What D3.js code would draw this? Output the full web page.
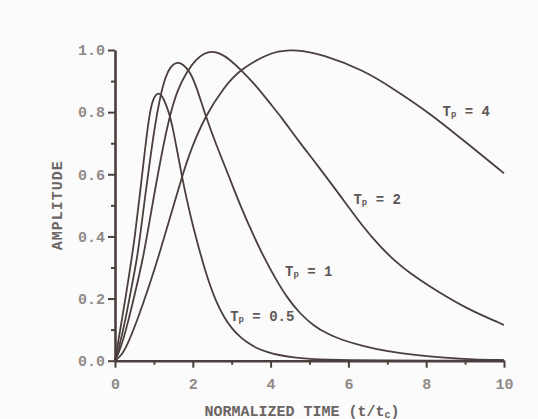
<!DOCTYPE html>
<html>
<head>
<meta charset="utf-8">
<script src="https://cdn.jsdelivr.net/npm/d3@7"></script>
<style>
  html, body { margin: 0; padding: 0; background: #fbfbfb; }
  svg { display: block; }
  .tick text { font-family: "Liberation Mono", "DejaVu Sans Mono", monospace; font-weight: bold; }
</style>
</head>
<body>
<svg id="chart" width="538" height="419"></svg>
<script>
// values: [t/tc, amplitude]
const tp05 = [[0,0],[0.17,0.126],[0.3,0.225],[0.43,0.33],[0.51,0.4],[0.64,0.535],[0.77,0.68],[0.88,0.79],[0.97,0.84],[1.05,0.857],[1.14,0.862],[1.22,0.85],[1.31,0.825],[1.41,0.79],[1.5,0.74],[1.6,0.675],[1.71,0.6],[1.85,0.515],[2.0,0.435],[2.15,0.365],[2.3,0.298],[2.45,0.24],[2.6,0.19],[2.8,0.14],[3.0,0.104],[3.2,0.078],[3.4,0.058],[3.65,0.04],[3.9,0.028],[4.2,0.018],[4.6,0.01],[5,0.006],[5.5,0.003],[6,0.0015],[7,0.0005],[8,0],[10,0]];
const tp1 = [[0,0],[0.1,0.04],[0.26,0.126],[0.4,0.22],[0.56,0.324],[0.64,0.395],[0.78,0.535],[0.92,0.665],[1.05,0.775],[1.18,0.86],[1.3,0.915],[1.43,0.948],[1.59,0.962],[1.75,0.955],[1.93,0.93],[2.1,0.88],[2.31,0.795],[2.6,0.695],[2.91,0.6],[3.2,0.505],[3.57,0.4],[3.86,0.325],[4.1,0.27],[4.41,0.205],[4.75,0.152],[5.1,0.113],[5.45,0.087],[5.8,0.068],[6.4,0.046],[7,0.03],[7.7,0.018],[8.5,0.009],[9.2,0.004],[10,0.002]];
const tp2 = [[0,0],[0.15,0.04],[0.34,0.126],[0.52,0.22],[0.71,0.324],[0.82,0.4],[1.0,0.53],[1.22,0.68],[1.41,0.79],[1.6,0.87],[1.84,0.93],[2.1,0.972],[2.3,0.99],[2.49,0.996],[2.7,0.99],[2.95,0.97],[3.22,0.938],[3.6,0.889],[4.0,0.826],[4.3,0.78],[4.67,0.715],[5.2,0.63],[5.78,0.533],[6.38,0.43],[6.81,0.368],[7.2,0.32],[7.6,0.28],[8.1,0.238],[8.6,0.2],[9,0.172],[9.5,0.142],[10,0.115]];
const tp4 = [[0,0],[0.15,0.015],[0.3,0.045],[0.56,0.126],[0.86,0.233],[1.13,0.34],[1.32,0.42],[1.74,0.6],[1.95,0.68],[2.33,0.79],[2.8,0.88],[3.22,0.938],[3.9,0.985],[4.2,0.996],[4.5,1.0],[4.8,0.998],[5.3,0.987],[6.38,0.936],[7.2,0.872],[8.1,0.796],[9,0.705],[10,0.603]];

const seriesNames = ["0.5", "1", "2", "4"];
const seriesValues = [tp05, tp1, tp2, tp4];

const xTicks = [0, 2, 4, 6, 8, 10];
const xMinorTicks = [1, 3, 5, 7, 9];
const yTicks = [0, 0.2, 0.4, 0.6, 0.8, 1.0];
const yMinorTicks = [0.1, 0.3, 0.5, 0.7, 0.9];

const svg = d3.select("#chart");
const mono = '"Liberation Mono", "DejaVu Sans Mono", monospace';
const ink = "#4a3f3d";

const x = d3.scaleLinear().domain([0, 10]).range([115, 504]);
const y = d3.scaleLinear().domain([0, 1]).range([360.7, 50]);

// minor ticks first, then major axes on top
svg.append("g")
  .attr("transform", `translate(${x(0)},0)`)
  .call(d3.axisLeft(y).tickValues(yMinorTicks).tickSize(4).tickFormat(""))
  .call((g) => g.select(".domain").remove())
  .call((g) => g.selectAll("line").attr("stroke", ink).attr("stroke-width", 2));

svg.append("g")
  .attr("transform", `translate(0,${y(0)})`)
  .call(d3.axisBottom(x).tickValues(xMinorTicks).tickSize(4).tickFormat(""))
  .call((g) => g.select(".domain").remove())
  .call((g) => g.selectAll("line").attr("stroke", ink).attr("stroke-width", 2));

const yAxis = svg.append("g")
  .attr("transform", `translate(${x(0)},0)`)
  .call(d3.axisLeft(y).tickValues(yTicks).tickSize(7).tickSizeOuter(0).tickPadding(3).tickFormat(d3.format(".1f")));

const xAxis = svg.append("g")
  .attr("transform", `translate(0,${y(0)})`)
  .call(d3.axisBottom(x).tickValues(xTicks).tickSize(7).tickSizeOuter(0).tickPadding(11));

[yAxis, xAxis].forEach((g) => {
  g.select(".domain").attr("stroke", ink).attr("stroke-width", 2.6);
  g.selectAll(".tick line").attr("stroke", ink).attr("stroke-width", 2);
  g.selectAll(".tick text")
    .attr("fill", "#8f8a88")
    .style("font-size", "15px");
});

// basis smoothing evens out the reading noise in the hand-read points
const line = d3.line()
  .x((d) => x(d[0]))
  .y((d) => y(d[1]))
  .curve(d3.curveBasis);

svg.append("g")
  .selectAll("path")
  .data(seriesValues)
  .join("path")
  .attr("d", line)
  .attr("fill", "none")
  .attr("stroke", ink)
  .attr("stroke-width", 1.8);

// curve labels, anchored in data units
const labelAt = { "0.5": [2.96, 0.14], "1": [4.37, 0.285], "2": [6.13, 0.517], "4": [8.42, 0.8] };

const labels = svg.append("g")
  .selectAll("text")
  .data(seriesNames)
  .join("text")
  .attr("x", (d) => x(labelAt[d][0]))
  .attr("y", (d) => y(labelAt[d][1]))
  .attr("dominant-baseline", "central")
  .attr("fill", "#5e5856")
  .style("font-family", mono)
  .style("font-weight", "bold")
  .style("font-size", "14px");

labels.append("tspan").text("T");
labels.append("tspan").text("p").attr("dy", 3).style("font-size", "9px");
labels.append("tspan").attr("dy", -3).text((d) => " = " + d);

// axis titles
svg.append("text")
  .attr("transform", `translate(58,${(y(0.35) + y(0.65)) / 2}) rotate(-90)`)
  .attr("text-anchor", "middle")
  .attr("dominant-baseline", "central")
  .attr("fill", "#6a6462")
  .style("font-family", mono)
  .style("font-weight", "bold")
  .style("font-size", "15px")
  .style("letter-spacing", "1px")
  .text("AMPLITUDE");

const xTitle = svg.append("text")
  .attr("x", 302)
  .attr("y", 412)
  .attr("text-anchor", "middle")
  .attr("dominant-baseline", "central")
  .attr("fill", "#6a6462")
  .style("font-family", mono)
  .style("font-weight", "bold")
  .style("font-size", "15px");

xTitle.append("tspan").text("NORMALIZED TIME (t/t");
xTitle.append("tspan").text("c").attr("dy", 3).style("font-size", "10px");
xTitle.append("tspan").text(")").attr("dy", -3);
</script>
</body>
</html>
